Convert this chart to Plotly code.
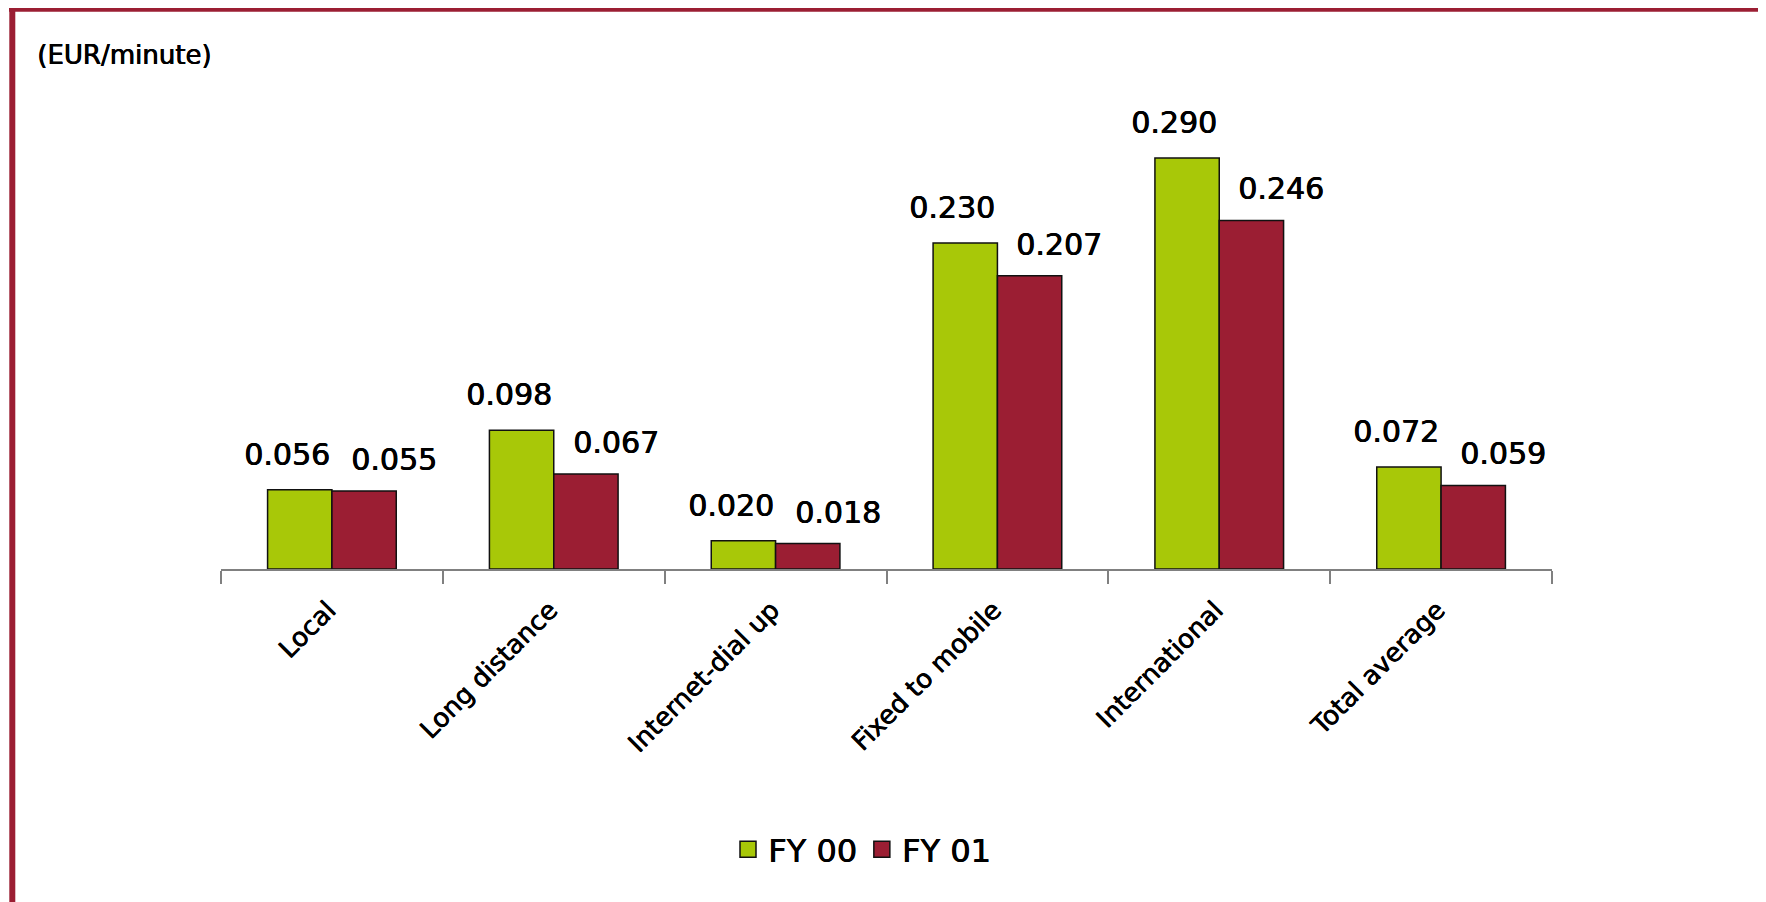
import plotly.graph_objects as go

categories = ['Local', 'Long distance', 'Internet-dial up', 'Fixed to mobile',
              'International', 'Total average']
fy00 = [0.056, 0.098, 0.020, 0.230, 0.290, 0.072]
fy01 = [0.055, 0.067, 0.018, 0.207, 0.246, 0.059]
series_names = ['FY 00', 'FY 01']

GREEN = '#A8C808'
RED = '#9B1E33'
FONT = 'DejaVu Sans, Verdana, sans-serif'
HEAVY = '0.7px 0 0 #000, 0.35px 0.2px 0 #000'   # a touch of extra weight, like the original's medium face

W, H = 1766, 902
OFF = 8   # page body margin of the html output
# plot box in page pixels: x 221..1552, baseline at 569.3
L = 221 - OFF
R = W - (1552 - OFF)
T = 100 - OFF
B = H - (569.3 - OFF)
pw = W - L - R
ph = H - T - B


def px_x(p):
    return (p - OFF - L) / pw


def px_y(p):
    return (H - B - (p - OFF)) / ph


fig = go.Figure()
for name, vals, col in zip(series_names, [fy00, fy01], [GREEN, RED]):
    fig.add_trace(go.Bar(
        x=categories, y=vals, name=name, showlegend=False,
        marker=dict(color=col, line=dict(color='#111111', width=1.5)),
    ))
# legend-only entries so the swatches can be bigger squares
for name, col in zip(series_names, [GREEN, RED]):
    fig.add_trace(go.Scatter(
        x=[None], y=[None], mode='markers', name=name,
        marker=dict(symbol='square', size=20, color=col,
                    line=dict(color='#111111', width=1.5)),
    ))

# value labels, nudged outward like the original
annotations = []
for vals, dx, dy in [(fy00, -45, 16), (fy01, 62, 12)]:
    for c, v in zip(categories, vals):
        annotations.append(dict(
            x=c, y=v, xref='x', yref='y', text='%.3f' % v,
            showarrow=False, xshift=dx, yshift=dy, yanchor='bottom',
            font=dict(family=FONT, size=30, color='black', shadow=HEAVY),
        ))

# frame lines (top and left) in the maroon house colour
shapes = [
    dict(type='line', xref='paper', yref='paper', x0=px_x(9), x1=px_x(W + 20),
         y0=px_y(8.5), y1=px_y(8.5), line=dict(color=RED, width=6.5)),
    dict(type='line', xref='paper', yref='paper', x0=px_x(12.3), x1=px_x(12.3),
         y0=px_y(5.5), y1=px_y(H + 20), line=dict(color=RED, width=6)),
]

fig.update_layout(
    width=W, height=H,
    margin=dict(l=L, r=R, t=T, b=B, autoexpand=False),
    paper_bgcolor='white', plot_bgcolor='white',
    barmode='group', bargap=0.42, bargroupgap=0,
    title=dict(text='(EUR/minute)', x=(37 - OFF) / W, xanchor='left', xref='container',
               y=1 - (46 - OFF) / H, yanchor='top', yref='container',
               font=dict(family=FONT, size=26, color='black', shadow=HEAVY)),
    font=dict(family=FONT, color='black'),
    legend=dict(orientation='h', x=px_x(862), xanchor='center',
                y=px_y(850), yanchor='middle',
                font=dict(family=FONT, size=32, color='black', shadow=HEAVY),
                itemwidth=30, traceorder='normal'),
    annotations=annotations,
    shapes=shapes,
)
fig.update_xaxes(
    showline=True, linecolor='#808080', linewidth=1.5,
    ticks='outside', tickson='boundaries', ticklen=13, tickcolor='#808080', tickwidth=1.5,
    tickangle=-45, tickfont=dict(family=FONT, size=26, color='black', shadow=HEAVY),
    ticklabelstandoff=14, ticklabelshift=-4,
    showgrid=False, zeroline=False,
)
fig.update_yaxes(range=[0, 0.331], visible=False, showgrid=False, zeroline=False)

fig.write_html('out.html')
